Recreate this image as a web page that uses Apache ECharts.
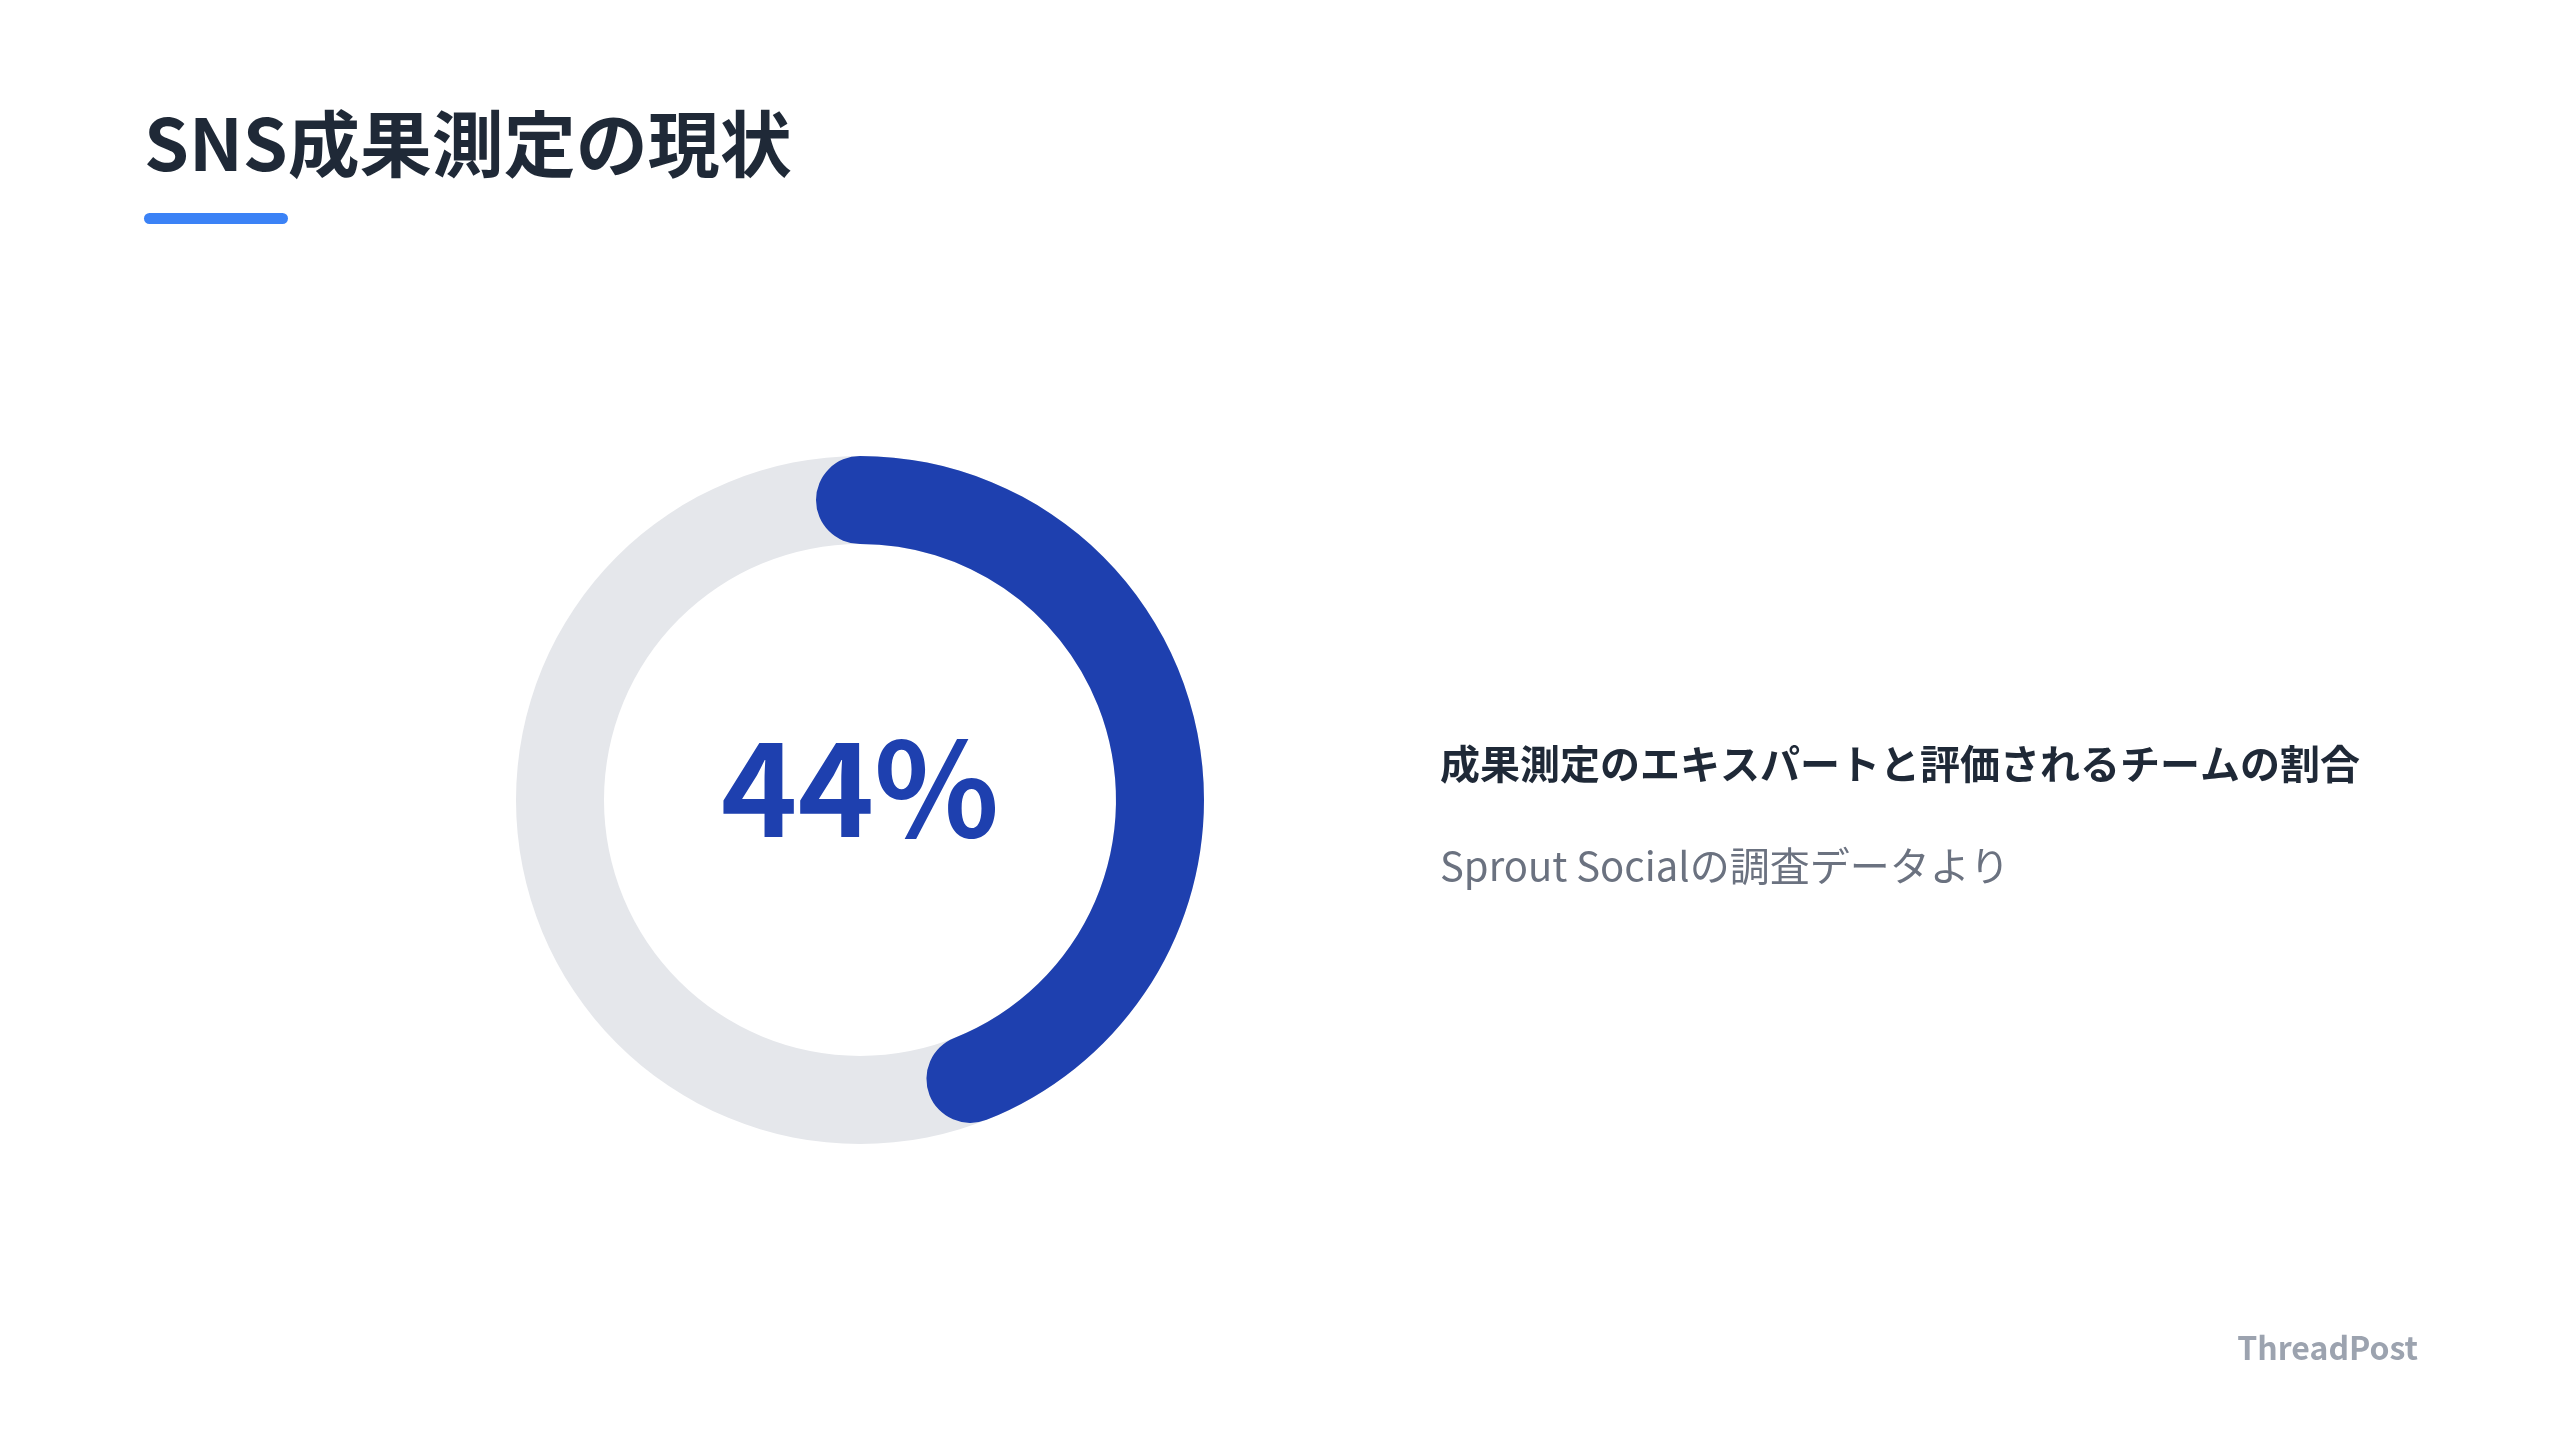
<!DOCTYPE html>
<html>
<head>
<meta charset="utf-8">
<script src="https://cdn.jsdelivr.net/npm/echarts@6/dist/echarts.min.js"></script>
<style>
html,body{margin:0;padding:0;background:#ffffff;}
#chart{width:2560px;height:1440px;}
</style>
</head>
<body>
<div id="chart"></div>
<script>
const chartTitle = 'SNS成果測定の現状';
const metricLabels = ['成果測定のエキスパートと評価されるチームの割合'];
const metricValues = [44];
const scaleRange = [0, 100];
const sourceNote = 'Sprout Socialの調査データより';
const brandName = 'ThreadPost';

const FONT = '"Noto Sans CJK JP", "Noto Sans", sans-serif';
const chart = echarts.init(document.getElementById('chart'));

chart.setOption({
  backgroundColor: '#ffffff',
  animation: false,
  series: [{
    type: 'gauge',
    center: [860, 800],
    radius: 344,
    startAngle: 90,
    endAngle: -270,
    clockwise: true,
    min: scaleRange[0],
    max: scaleRange[1],
    pointer: { show: false },
    anchor: { show: false },
    axisTick: { show: false },
    splitLine: { show: false },
    axisLabel: { show: false },
    axisLine: { roundCap: false, lineStyle: { width: 88, color: [[1, '#e5e7eb']] } },
    progress: { show: true, width: 88, roundCap: true, itemStyle: { color: '#1e40af' } },
    title: { show: false },
    detail: {
      show: true,
      offsetCenter: [0, -12],
      formatter: '{value}%',
      fontFamily: FONT,
      fontWeight: 'bold',
      fontSize: 130,
      color: '#1e40af'
    },
    data: metricValues.map((v, i) => ({ value: v, name: metricLabels[i] }))
  }],
  graphic: [
    { type: 'text', left: 144, top: 108, style: { text: chartTitle, font: 'bold 72px ' + FONT, fill: '#1f2937' } },
    { type: 'rect', left: 144, top: 213, shape: { width: 144, height: 11, r: 5.5 }, style: { fill: '#3b82f6' } },
    { type: 'text', left: 1440, top: 744, style: { text: metricLabels[0], font: 'bold 40px ' + FONT, fill: '#1f2937' } },
    { type: 'text', left: 1440, top: 846, style: { text: sourceNote, font: '40px ' + FONT, fill: '#6b7280' } },
    { type: 'text', right: 142, top: 1332, style: { text: brandName, font: 'bold 32px ' + FONT, fill: '#9ca3af' } }
  ]
});
</script>
</body>
</html>
